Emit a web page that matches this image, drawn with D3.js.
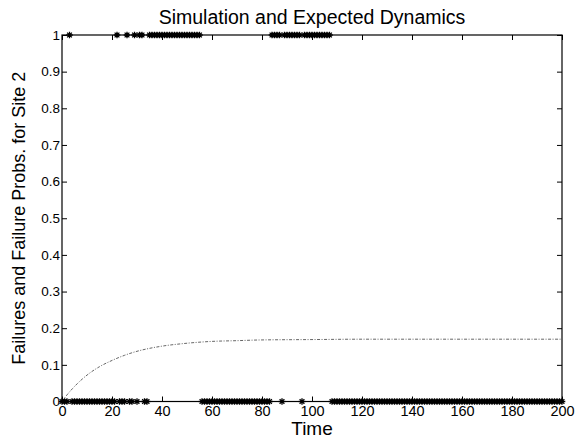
<!DOCTYPE html>
<html>
<head>
<meta charset="utf-8">
<script src="https://cdn.jsdelivr.net/npm/d3@7"></script>
<style>
  html, body { margin: 0; padding: 0; background: #fff; }
  svg { display: block; font-family: "Liberation Sans", Arial, sans-serif; }
</style>
</head>
<body>
<svg id="chart" width="587" height="439"></svg>
<script>
// ---- data ----
const titleText = "Simulation and Expected Dynamics";
const xLabel = "Time";
const yLabel = "Failures and Failure Probs. for Site 2";
const xTicks = [0, 20, 40, 60, 80, 100, 120, 140, 160, 180, 200];
const yTicks = [0, 0.1, 0.2, 0.3, 0.4, 0.5, 0.6, 0.7, 0.8, 0.9, 1];
const yTickLabels = ["0", "0.1", "0.2", "0.3", "0.4", "0.5", "0.6", "0.7", "0.8", "0.9", "1"];

// simulated failure state at t = 0..200 (1 = failure)
const simulated = [
  0,0,0,1,0,0,0,0,0,0, 0,0,0,0,0,0,0,0,0,0,
  0,0,1,0,0,0,1,0,0,1, 0,1,1,0,0,1,1,1,1,1,
  1,1,1,1,1,1,1,1,1,1, 1,1,1,1,1,1,0,0,0,0,
  0,0,0,0,0,0,0,0,0,0, 0,0,0,0,0,0,0,0,0,0,
  0,0,0,0,1,1,1,1,0,1, 1,1,1,1,1,1,0,1,1,1,
  1,1,1,1,1,1,1,1,0,0, 0,0,0,0,0,0,0,0,0,0,
  0,0,0,0,0,0,0,0,0,0, 0,0,0,0,0,0,0,0,0,0,
  0,0,0,0,0,0,0,0,0,0, 0,0,0,0,0,0,0,0,0,0,
  0,0,0,0,0,0,0,0,0,0, 0,0,0,0,0,0,0,0,0,0,
  0,0,0,0,0,0,0,0,0,0, 0,0,0,0,0,0,0,0,0,0,
  0
];

// expected failure probability
const expectedT = [0, 2, 5, 10, 15, 20, 25, 30, 35, 40, 50, 60, 70, 80, 100, 120, 140, 160, 180, 200];
const expectedP = [0, 0.018, 0.041, 0.072, 0.095, 0.112, 0.126, 0.137, 0.145, 0.151, 0.159, 0.164, 0.166, 0.168, 0.169, 0.170, 0.170, 0.170, 0.170, 0.170];

// ---- layout ----
const svg = d3.select("#chart");
const L = 62, R = 562, T = 35, B = 401.5;

const x = d3.scaleLinear().domain([0, 200]).range([L, R]);
const y = d3.scaleLinear().domain([0, 1]).range([B, T]);

// frame
svg.append("rect")
  .attr("x", L).attr("y", T).attr("width", R - L).attr("height", B - T)
  .attr("fill", "none").attr("stroke", "#000").attr("stroke-width", 1.2);

// axes with inward ticks (MATLAB style)
const fmtY = (d) => yTickLabels[yTicks.indexOf(d)];
const axB = svg.append("g").attr("transform", `translate(0,${B})`)
  .call(d3.axisBottom(x).tickValues(xTicks).tickSize(-5).tickPadding(4).tickFormat(d3.format("d")));
const axT = svg.append("g").attr("transform", `translate(0,${T})`)
  .call(d3.axisTop(x).tickValues(xTicks).tickSize(-5).tickFormat(""));
const axL = svg.append("g").attr("transform", `translate(${L},0)`)
  .call(d3.axisLeft(y).tickValues(yTicks).tickSize(-5).tickPadding(3).tickFormat(fmtY));
const axR = svg.append("g").attr("transform", `translate(${R},0)`)
  .call(d3.axisRight(y).tickValues(yTicks).tickSize(-5).tickFormat(""));

[axB, axT, axL, axR].forEach(g => {
  g.select(".domain").remove();
  g.selectAll(".tick line").attr("stroke", "#000").attr("stroke-width", 1);
  g.selectAll(".tick text").attr("fill", "#000").attr("font-family", "Liberation Sans, Arial, sans-serif");
});
axB.selectAll(".tick text").attr("font-size", 14.5);
axL.selectAll(".tick text").attr("font-size", 13.5).attr("x", -2);

// expected curve
const line = d3.line()
  .x((d, i) => x(expectedT[i]))
  .y((d) => y(d))
  .curve(d3.curveMonotoneX);
svg.append("path")
  .datum(expectedP)
  .attr("d", line)
  .attr("fill", "none")
  .attr("stroke", "#555")
  .attr("stroke-width", 0.9)
  .attr("stroke-dasharray", "3,1.5,1,1.5");

// simulated failures as asterisk markers
const s = 3.3;
const starPath = `M${-s},0L${s},0M0,${-s}L0,${s}M${-s*0.72},${-s*0.72}L${s*0.72},${s*0.72}M${-s*0.72},${s*0.72}L${s*0.72},${-s*0.72}`;
svg.append("g").selectAll("path")
  .data(simulated)
  .join("path")
  .attr("transform", (d, i) => `translate(${x(i)},${y(d)})`)
  .attr("d", starPath)
  .attr("fill", "none")
  .attr("stroke", "#000")
  .attr("stroke-width", 1.3);

// title and labels
svg.append("text")
  .attr("x", (L + R) / 2).attr("y", 24)
  .attr("text-anchor", "middle")
  .attr("font-size", 19.5)
  .attr("fill", "#000")
  .text(titleText);

svg.append("text")
  .attr("x", (L + R) / 2).attr("y", 435)
  .attr("text-anchor", "middle")
  .attr("font-size", 19)
  .attr("fill", "#000")
  .text(xLabel);

svg.append("text")
  .attr("transform", `translate(25,${(T + B) / 2}) rotate(-90)`)
  .attr("text-anchor", "middle")
  .attr("font-size", 18)
  .attr("fill", "#000")
  .text(yLabel);
</script>
</body>
</html>
